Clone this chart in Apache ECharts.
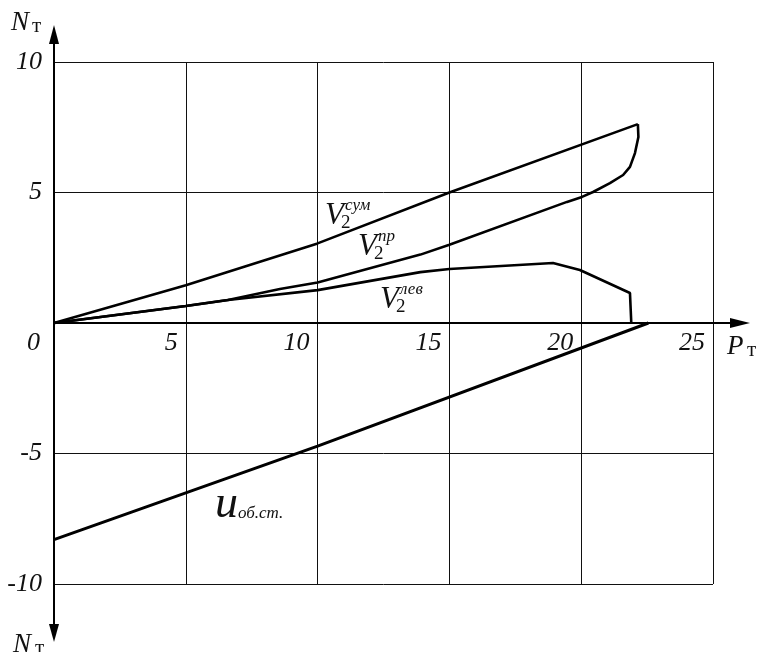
<!DOCTYPE html>
<html>

<head>
  <meta charset="utf-8" />
  <title></title>
  <script src="https://cdn.jsdelivr.net/npm/echarts@6/dist/echarts.min.js"></script>
  <style>
    html, body { margin: 0; padding: 0; background: #fff; }
  </style>
</head>

<body>
  <div id="chart" style="width: 766px;height:652px;"></div>
  <script type="text/javascript">
    // V2 сум: upper branch from origin to the tip
    var sumX = [0, 5, 10, 15, 22.15];
    var sumY = [0, 1.45, 3.05, 5.0, 7.62];
    // V2 пр: from the tip, round the nose and back to origin
    var prX = [22.15, 22.17, 22.04, 21.85, 21.59, 21.09, 20.45, 20.03, 19.46, 15, 13.9, 10, 8.57, 6.6, 5, 0];
    var prY = [7.62, 7.13, 6.51, 5.98, 5.67, 5.36, 5.02, 4.83, 4.64, 3.0, 2.62, 1.55, 1.3, 0.88, 0.65, 0];
    // V2 лев
    var levX = [0, 5, 6.6, 10, 13.9, 15, 18.93, 19.95, 21.85, 21.9];
    var levY = [0, 0.65, 0.88, 1.26, 1.95, 2.07, 2.3, 2.03, 1.15, 0];
    // u об.ст.
    var uX = [0, 10, 22.55];
    var uY = [-8.3, -4.72, 0];

    var xTicks = [0, 5, 10, 15, 20, 25];
    var yTicks = [-10, -5, 0, 5, 10];

    function pairs(xs, ys) {
      return xs.map(function (x, i) { return [x, ys[i]]; });
    }

    var serif = '"Liberation Serif", "DejaVu Serif", serif';
    var lineStyle = { color: '#000', width: 2.6 };

    var chart = echarts.init(document.getElementById('chart'));
    var option = {
      backgroundColor: '#fff',
      animation: false,
      grid: { left: 54, right: 53, top: 62, bottom: 68 },
      xAxis: {
        type: 'value',
        min: xTicks[0],
        max: xTicks[xTicks.length - 1],
        interval: 5,
        axisLine: { show: true, onZero: false, lineStyle: { color: '#000', width: 2 } },
        axisTick: { show: false },
        splitLine: { lineStyle: { color: '#111', width: 1 } },
        axisLabel: {
          show: true,
          margin: 7,
          align: 'right',
          padding: [0, 8, 0, 0],
          color: '#111',
          fontFamily: serif,
          fontStyle: 'italic',
          fontSize: 26,
          formatter: function (v) { return v === 0 ? '{z|0}' : String(v); },
          rich: { z: { padding: [0, 6, 0, 0], fontFamily: serif, fontStyle: 'italic', fontSize: 26, color: '#111' } }
        }
      },
      yAxis: {
        type: 'value',
        min: yTicks[0],
        max: yTicks[yTicks.length - 1],
        interval: 5,
        axisLine: { show: false },
        axisTick: { show: false },
        splitLine: { lineStyle: { color: '#111', width: 1 } },
        axisLabel: {
          margin: 12,
          color: '#111',
          fontFamily: serif,
          fontStyle: 'italic',
          fontSize: 26,
          formatter: function (v) { return v === 0 ? '' : String(v); }
        }
      },
      series: [
        { name: 'V2сум', type: 'line', data: pairs(sumX, sumY), showSymbol: false, lineStyle: lineStyle },
        { name: 'V2пр', type: 'line', data: pairs(prX, prY), showSymbol: false, lineStyle: lineStyle },
        { name: 'V2лев', type: 'line', data: pairs(levX, levY), showSymbol: false, lineStyle: lineStyle },
        { name: 'uоб.ст.', type: 'line', data: pairs(uX, uY), showSymbol: false, lineStyle: { color: '#000', width: 3 } }
      ]
    };
    chart.setOption(option);

    var o = chart.convertToPixel({ gridIndex: 0 }, [0, 0]);
    var tr = chart.convertToPixel({ gridIndex: 0 }, [25, 10]);
    var bl = chart.convertToPixel({ gridIndex: 0 }, [0, -10]);

    // move the x axis (line + labels) up to the zero level
    chart.setOption({ xAxis: { offset: -(bl[1] - o[1]) } });

    function txt(x, y, s, font, align) {
      return {
        type: 'text', x: x, y: y, z: 10,
        style: { text: s, font: font, fill: '#111', align: align || 'left', verticalAlign: 'middle' }
      };
    }
    function vLabel(x, y, sup) {
      return [
        txt(x, y, 'V', 'italic 31px ' + serif),
        txt(x + 16, y + 7, '2', '19px ' + serif),
        txt(x + 20, y - 10, sup, 'italic 17px ' + serif)
      ];
    }

    var g = [
      { type: 'line', z: 5, shape: { x1: o[0], y1: tr[1] - 30, x2: o[0], y2: bl[1] + 45 }, style: { stroke: '#000', lineWidth: 2 } },
      { type: 'polygon', z: 5, shape: { points: [[o[0], tr[1] - 37], [o[0] - 5, tr[1] - 18], [o[0] + 5, tr[1] - 18]] }, style: { fill: '#000' } },
      { type: 'polygon', z: 5, shape: { points: [[o[0], bl[1] + 58], [o[0] - 5, bl[1] + 40], [o[0] + 5, bl[1] + 40]] }, style: { fill: '#000' } },
      { type: 'line', z: 5, shape: { x1: tr[0], y1: o[1], x2: tr[0] + 25, y2: o[1] }, style: { stroke: '#000', lineWidth: 2 } },
      { type: 'polygon', z: 5, shape: { points: [[tr[0] + 37, o[1]], [tr[0] + 17, o[1] - 5], [tr[0] + 17, o[1] + 5]] }, style: { fill: '#000' } },
      txt(11, 23, 'N', 'italic 27px ' + serif),
      txt(32, 26, 'т', '21px ' + serif),
      txt(13, 645, 'N', 'italic 27px ' + serif),
      txt(35, 648, 'т', '21px ' + serif),
      txt(727, 347, 'P', 'italic 27px ' + serif),
      txt(747, 350, 'т', '21px ' + serif),
      txt(215, 505, 'u', 'italic 46px ' + serif),
      txt(238, 514, 'об.ст.', 'italic 17px ' + serif)
    ];
    g = g.concat(vLabel(325, 216, 'сум'), vLabel(358, 247, 'пр'), vLabel(380, 300, 'лев'));
    chart.setOption({ graphic: g });

    window.onresize = function () {
      chart.resize();
    };
  </script>
</body>

</html>
